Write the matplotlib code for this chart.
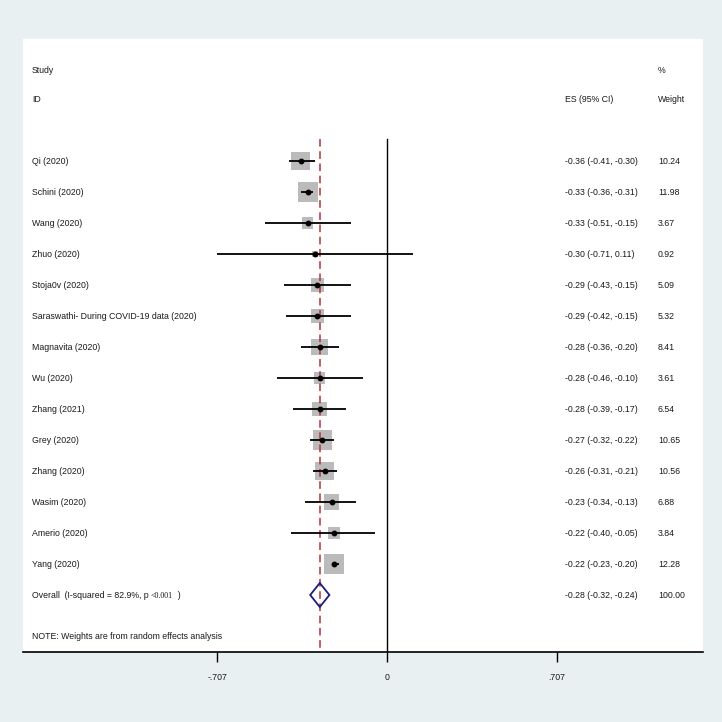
import matplotlib
matplotlib.use("Agg")
import matplotlib.pyplot as plt
from matplotlib.patches import Polygon
from matplotlib.transforms import blended_transform_factory

studies = ["Qi (2020)", "Schini (2020)", "Wang (2020)", "Zhuo (2020)", "Stoja0v (2020)",
           "Saraswathi- During COVID-19 data (2020)", "Magnavita (2020)", "Wu (2020)",
           "Zhang (2021)", "Grey (2020)", "Zhang (2020)", "Wasim (2020)", "Amerio (2020)",
           "Yang (2020)"]
es = [-0.36, -0.33, -0.33, -0.30, -0.29, -0.29, -0.28, -0.28, -0.28, -0.27, -0.26, -0.23, -0.22, -0.22]
lo = [-0.41, -0.36, -0.51, -0.71, -0.43, -0.42, -0.36, -0.46, -0.39, -0.32, -0.31, -0.34, -0.40, -0.23]
hi = [-0.30, -0.31, -0.15, 0.11, -0.15, -0.15, -0.20, -0.10, -0.17, -0.22, -0.21, -0.13, -0.05, -0.20]
weights = [10.24, 11.98, 3.67, 0.92, 5.09, 5.32, 8.41, 3.61, 6.54, 10.65, 10.56, 6.88, 3.84, 12.28]
overall_es, overall_lo, overall_hi, overall_w = -0.28, -0.32, -0.24, 100.00
xticks = [-0.707, 0, 0.707]
xtick_labels = ["-.707", "0", ".707"]

plt.rcParams['font.family'] = ['Liberation Sans', 'DejaVu Sans']
TXT = '#1A1A1A'
FS = 6.3

W, H = 722, 722
fig = plt.figure(figsize=(W / 100, H / 100), dpi=100, facecolor='#E8F0F2')
left, right, top, bottom = 23, 703, 39, 652
ax = fig.add_axes([left / W, 1 - bottom / H, (right - left) / W, (bottom - top) / H])
ax.set_facecolor('white')

px_per_unit = 240.0
zero_px = 387
ax.set_xlim((left - zero_px) / px_per_unit, (right - zero_px) / px_per_unit)
row0_px, row_px = 161, 31
ax.set_ylim((bottom - row0_px) / row_px, (top - row0_px) / row_px)

n = len(studies)
rows = list(range(n))

# reference lines
line_top = (139 - row0_px) / row_px
ax.plot([0, 0], [line_top, ax.get_ylim()[0]], color='black', lw=1.0, zorder=2)
ax.plot([overall_es, overall_es], [line_top, ax.get_ylim()[0]], color='#B5303C', lw=1.1,
        ls=(0, (5, 3)), zorder=4)

# boxes
ax.scatter(es, rows, s=[17.7 * w for w in weights], marker='s', color='#BBBBBB',
           edgecolors='none', zorder=3)
# CIs
for i in rows:
    ax.plot([lo[i], hi[i]], [i, i], color='black', lw=1.3, zorder=5, solid_capstyle='butt')
ax.plot(es, rows, 'o', color='black', ms=3.2, zorder=6)

# overall diamond
oy = n
hh = 12 / row_px
diamond = Polygon([(overall_lo, oy), (overall_es, oy - hh), (overall_hi, oy), (overall_es, oy + hh)],
                  closed=True, facecolor='none', edgecolor='#1C1C7C', lw=1.3, zorder=5)
ax.add_patch(diamond)

# text
def xa(px):
    return (px - left) / (right - left)

trx = blended_transform_factory(ax.transAxes, ax.transData)
X_LAB, X_ES, X_W = xa(32), xa(565), xa(658)

ax.text(X_LAB, (70 - row0_px) / row_px, "Study", transform=trx, fontsize=FS, color=TXT, va='center')
ax.text(X_LAB, -2, "ID", transform=trx, fontsize=FS, color=TXT, va='center')
ax.text(X_ES, -2, "ES (95% CI)", transform=trx, fontsize=FS, color=TXT, va='center')
ax.text(X_W, (70 - row0_px) / row_px, "%", transform=trx, fontsize=FS, color=TXT, va='center')
ax.text(X_W, -2, "Weight", transform=trx, fontsize=FS, color=TXT, va='center')

for i in rows:
    ax.text(X_LAB, i, studies[i], transform=trx, fontsize=FS, color=TXT, va='center')
    ax.text(X_ES, i, f"{es[i]:.2f} ({lo[i]:.2f}, {hi[i]:.2f})", transform=trx,
            fontsize=FS, color=TXT, va='center')
    ax.text(X_W, i, f"{weights[i]:.2f}", transform=trx, fontsize=FS, color=TXT, va='center')

ob = oy + 0.1  # baseline for overall row
t = ax.text(X_LAB, ob, "Overall  (I-squared = 82.9%, p ", transform=trx, fontsize=FS,
            color=TXT, va='baseline')
fig.canvas.draw()
renderer = fig.canvas.get_renderer()
bb = t.get_window_extent(renderer=renderer)
x_after = ax.transAxes.inverted().transform((bb.x1, 0))[0]
t2 = ax.text(x_after, ob, "<0.001", transform=trx, fontsize=FS - 0.5, color=TXT, va='baseline',
             family=['Liberation Serif', 'DejaVu Serif'])
bb2 = t2.get_window_extent(renderer=renderer)
x_after2 = ax.transAxes.inverted().transform((bb2.x1, 0))[0]
ax.text(x_after2, ob, "  )", transform=trx, fontsize=FS, color=TXT, va='baseline')

ax.text(X_ES, oy, f"{overall_es:.2f} ({overall_lo:.2f}, {overall_hi:.2f})", transform=trx,
        fontsize=FS, color=TXT, va='center')
ax.text(X_W, oy, f"{overall_w:.2f}", transform=trx, fontsize=FS, color=TXT, va='center')

ax.text(X_LAB, (636 - row0_px) / row_px, "NOTE: Weights are from random effects analysis",
        transform=trx, fontsize=FS, color=TXT, va='center')

# axes styling
for s in ['top', 'left', 'right']:
    ax.spines[s].set_visible(False)
ax.spines['bottom'].set_color('black')
ax.spines['bottom'].set_linewidth(1.2)
ax.set_yticks([])
ax.set_xticks(xticks)
ax.set_xticklabels(xtick_labels)
ax.tick_params(axis='x', direction='out', length=7, width=1.0, color='black',
               labelsize=FS, labelcolor=TXT, pad=8)

fig.savefig("out.png", dpi=100, facecolor=fig.get_facecolor())
